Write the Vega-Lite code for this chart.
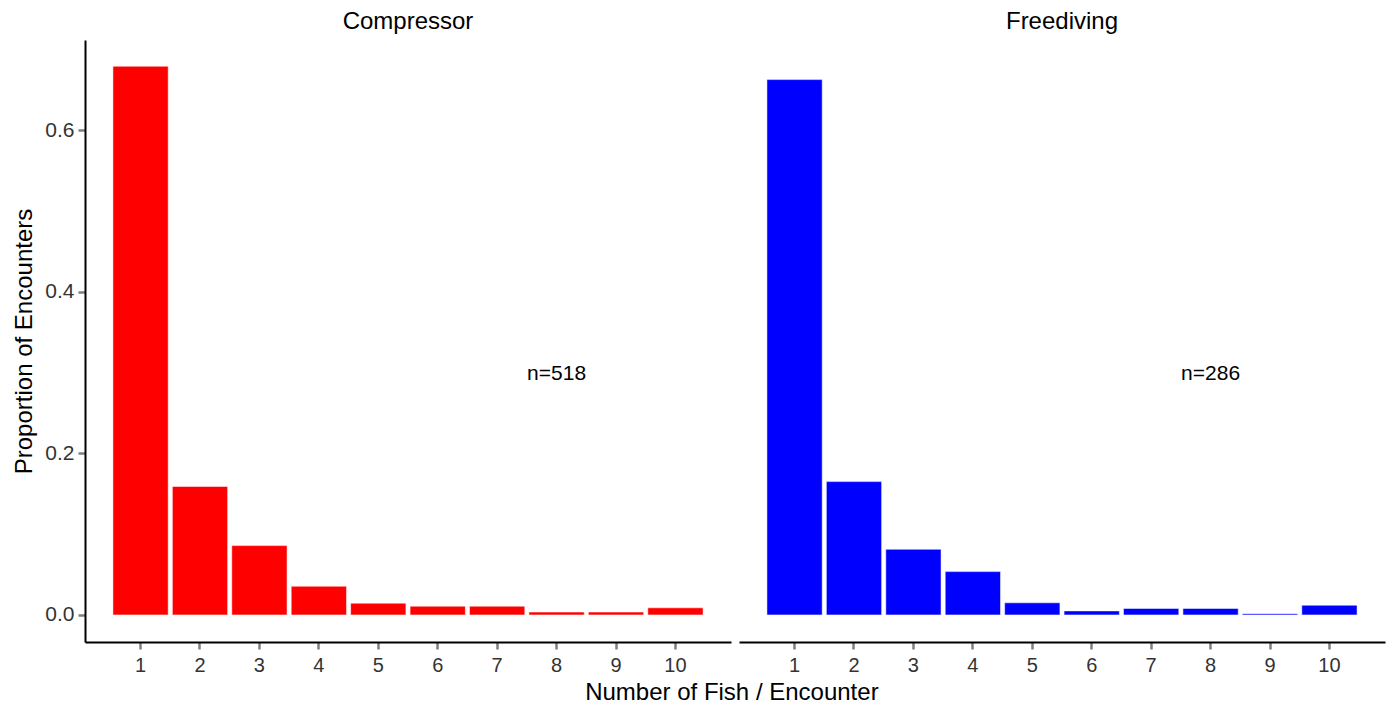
{
  "$schema": "https://vega.github.io/schema/vega-lite/v6.json",
  "padding": {"left": 12, "top": 10, "right": 2, "bottom": 0},
  "background": "white",
  "data": {
    "values": [
      {"method": "Compressor", "fish": 1, "prop": 0.679},
      {"method": "Compressor", "fish": 2, "prop": 0.159},
      {"method": "Compressor", "fish": 3, "prop": 0.0858},
      {"method": "Compressor", "fish": 4, "prop": 0.0355},
      {"method": "Compressor", "fish": 5, "prop": 0.0145},
      {"method": "Compressor", "fish": 6, "prop": 0.0108},
      {"method": "Compressor", "fish": 7, "prop": 0.0108},
      {"method": "Compressor", "fish": 8, "prop": 0.0035},
      {"method": "Compressor", "fish": 9, "prop": 0.0035},
      {"method": "Compressor", "fish": 10, "prop": 0.0088},
      {"method": "Freediving", "fish": 1, "prop": 0.6625},
      {"method": "Freediving", "fish": 2, "prop": 0.165},
      {"method": "Freediving", "fish": 3, "prop": 0.0812},
      {"method": "Freediving", "fish": 4, "prop": 0.0536},
      {"method": "Freediving", "fish": 5, "prop": 0.015},
      {"method": "Freediving", "fish": 6, "prop": 0.005},
      {"method": "Freediving", "fish": 7, "prop": 0.008},
      {"method": "Freediving", "fish": 8, "prop": 0.008},
      {"method": "Freediving", "fish": 9, "prop": 0.0015},
      {"method": "Freediving", "fish": 10, "prop": 0.012},
      {"method": "Compressor", "fish": 8, "label": "n=518", "ly": 0.298},
      {"method": "Freediving", "fish": 8, "label": "n=286", "ly": 0.298}
    ]
  },
  "facet": {
    "column": {
      "field": "method",
      "type": "nominal",
      "header": {
        "title": null,
        "labelFont": "Liberation Sans",
        "labelFontSize": 24,
        "labelColor": "black",
        "labelPadding": 6
      }
    }
  },
  "spacing": 8,
  "spec": {
    "width": 646,
    "height": 602,
    "layer": [
      {
        "transform": [{"filter": "isValid(datum.prop)"}],
        "mark": {"type": "bar", "stroke": "white", "strokeWidth": 0.5},
        "encoding": {
          "x": {
            "field": "fish",
            "type": "ordinal",
            "title": null,
            "scale": {"paddingInner": 0.07, "paddingOuter": 0.47},
            "axis": {"labelAngle": 0, "labelPadding": 6, "labelFontSize": 20}
          },
          "y": {
            "field": "prop",
            "type": "quantitative",
            "title": "Proportion of Encounters",
            "scale": {"domain": [-0.0335, 0.7115], "nice": false, "zero": false},
            "axis": {"values": [0, 0.2, 0.4, 0.6], "format": ".1f", "labelFontSize": 21, "titlePadding": 8}
          },
          "y2": {"datum": 0},
          "color": {
            "field": "method",
            "type": "nominal",
            "scale": {"domain": ["Compressor", "Freediving"], "range": ["#FF0000", "#0000FF"]},
            "legend": null
          }
        }
      },
      {
        "transform": [{"filter": "isValid(datum.label)"}],
        "mark": {"type": "text", "font": "Liberation Sans", "fontSize": 21, "color": "black"},
        "encoding": {
          "x": {"field": "fish", "type": "ordinal"},
          "y": {"field": "ly", "type": "quantitative"},
          "text": {"field": "label"}
        }
      }
    ]
  },
  "title": {
    "text": "Number of Fish / Encounter",
    "orient": "bottom",
    "anchor": "middle",
    "font": "Liberation Sans",
    "fontSize": 24,
    "fontWeight": "normal",
    "color": "black",
    "offset": 6,
    "dx": 33
  },
  "config": {
    "view": {"stroke": null},
    "axis": {
      "grid": false,
      "domainColor": "black",
      "domainWidth": 2,
      "tickColor": "#7F7F7F",
      "tickWidth": 2.5,
      "tickSize": 7,
      "labelFont": "Liberation Sans",
      "labelFontSize": 20,
      "labelColor": "#333333",
      "labelPadding": 4,
      "titleFont": "Liberation Sans",
      "titleFontSize": 24,
      "titleFontWeight": "normal",
      "titleColor": "black",
      "titlePadding": 8
    }
  }
}
